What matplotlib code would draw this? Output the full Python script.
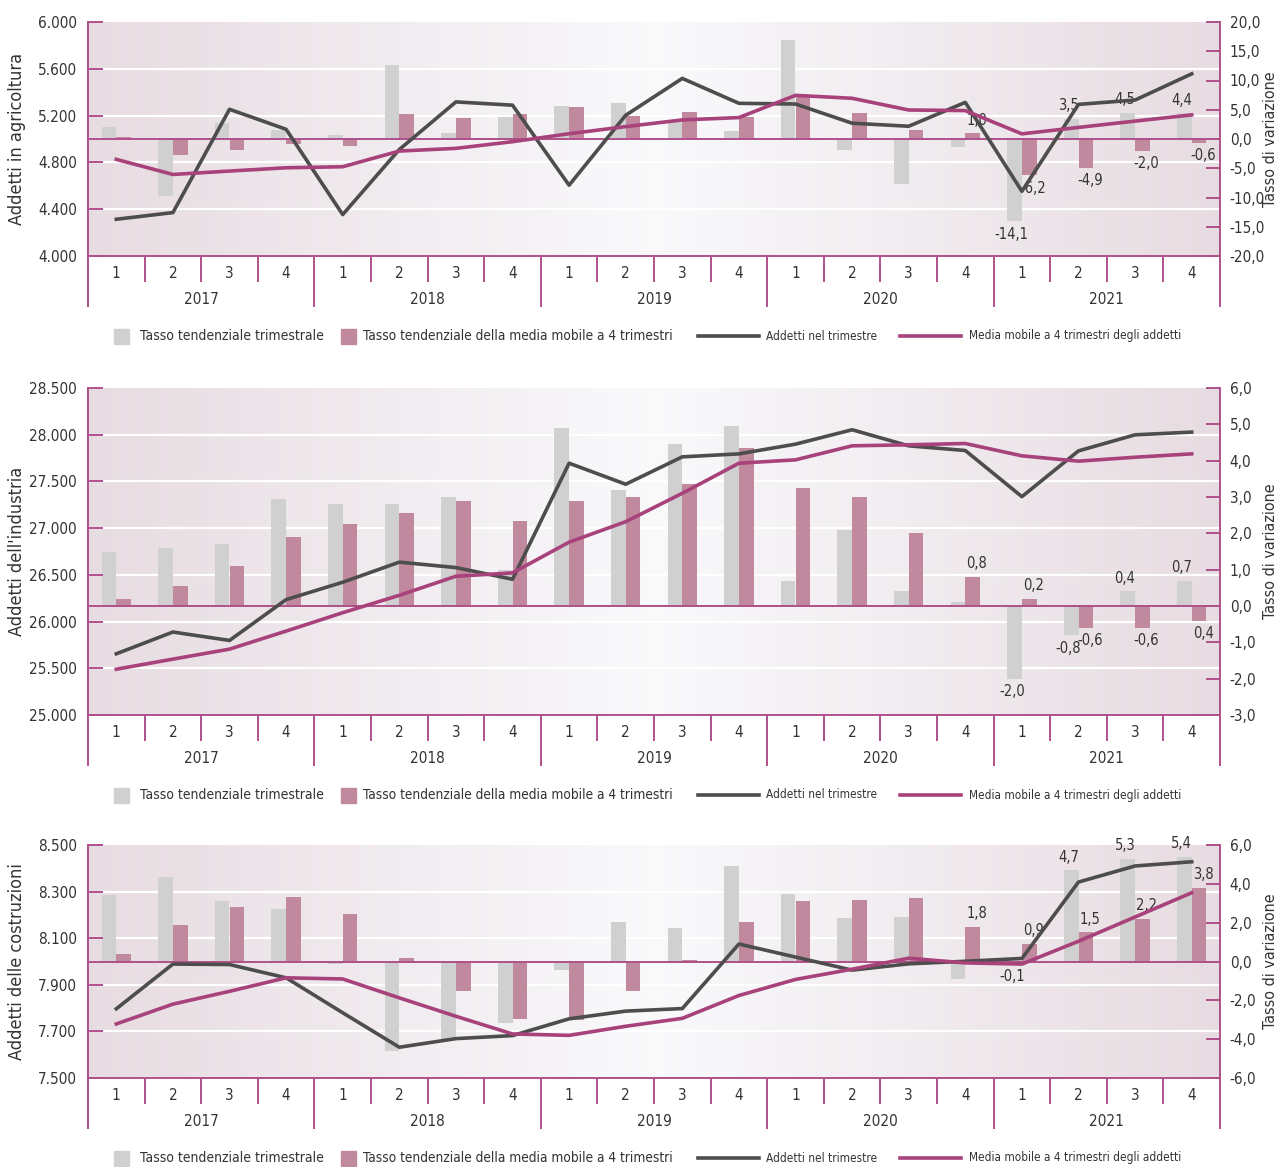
import numpy as np
import matplotlib
matplotlib.use('Agg')
import matplotlib.pyplot as plt
from matplotlib.patches import Rectangle
from matplotlib.lines import Line2D
from matplotlib.ticker import FuncFormatter

plt.rcParams['font.family'] = ['DejaVu Sans']
plt.rcParams['font.stretch'] = 'condensed'

quarters = ['1', '2', '3', '4'] * 5
years = ['2017', '2018', '2019', '2020', '2021']

# agricoltura
agr_tasso = [2.1, -9.8, 2.7, 1.6, 0.6, 12.7, 1.1, 3.8, 5.7, 6.1, 3.3, 1.4, 17.0, -1.9, -7.7, -1.4, -14.1, 3.5, 4.5, 4.4]
agr_tasso_mm = [0.4, -2.8, -1.8, -0.9, -1.2, 4.3, 3.6, 4.3, 5.5, 4.0, 4.7, 3.7, 7.3, 4.5, 1.6, 1.0, -6.2, -4.9, -2.0, -0.6]
agr_addetti = [4314, 4371, 5254, 5083, 4354, 4910, 5317, 5289, 4605, 5203, 5518, 5305, 5299, 5135, 5109, 5313, 4553, 5296, 5333, 5557]
agr_mm = [4826, 4697, 4726, 4754, 4763, 4897, 4920, 4977, 5045, 5106, 5163, 5183, 5373, 5348, 5248, 5243, 5044, 5099, 5153, 5206]
agr_lab_t = [None] * 16 + ['-14,1', '3,5', '4,5', '4,4']
agr_lab_mm = [None] * 15 + ['1,0', '-6,2', '-4,9', '-2,0', '-0,6']

# industria
ind_tasso = [1.5, 1.6, 1.7, 2.95, 2.8, 2.8, 3.0, 1.0, 4.9, 3.2, 4.45, 4.95, 0.7, 2.1, 0.4, 0.1, -2.0, -0.8, 0.4, 0.7]
ind_tasso_mm = [0.2, 0.55, 1.1, 1.9, 2.25, 2.55, 2.9, 2.35, 2.9, 3.0, 3.35, 4.35, 3.25, 3.0, 2.0, 0.8, 0.2, -0.6, -0.6, -0.4]
ind_addetti = [25655, 25888, 25798, 26235, 26421, 26636, 26578, 26453, 27695, 27470, 27763, 27795, 27899, 28053, 27881, 27831, 27337, 27827, 27999, 28028]
ind_mm = [25490, 25598, 25705, 25898, 26095, 26281, 26485, 26521, 26850, 27069, 27373, 27695, 27731, 27881, 27892, 27906, 27774, 27717, 27759, 27795]
ind_lab_t = [None] * 16 + ['-2,0', '-0,8', '0,4', '0,7']
ind_lab_mm = [None] * 15 + ['0,8', '0,2', '-0,6', '-0,6', '0,4']

# costruzioni
cos_tasso = [3.4, 4.35, 3.1, 2.7, -0.15, -4.6, -4.0, -3.15, -0.45, 2.05, 1.7, 4.9, 3.5, 2.25, 2.3, -0.9, -0.1, 4.7, 5.3, 5.4]
cos_tasso_mm = [0.4, 1.9, 2.8, 3.3, 2.45, 0.2, -1.5, -2.95, -3.0, -1.5, 0.1, 2.05, 3.1, 3.15, 3.25, 1.8, 0.9, 1.5, 2.2, 3.8]
cos_addetti = [7797, 7989, 7987, 7930, 7780, 7632, 7669, 7682, 7754, 7787, 7798, 8075, 8019, 7963, 7990, 8001, 8013, 8341, 8410, 8428]
cos_mm = [7732, 7817, 7872, 7930, 7925, 7844, 7765, 7689, 7683, 7722, 7756, 7854, 7923, 7967, 8014, 7994, 7989, 8087, 8191, 8295]
cos_lab_t = [None] * 16 + ['-0,1', '4,7', '5,3', '5,4']
cos_lab_mm = [None] * 15 + ['1,8', '0,9', '1,5', '2,2', '3,8']

PINK_AX = '#b0508a'
PINK_LINE = '#a8427a'
PINK_BAR = '#c0899e'
GRAY_BAR = '#d0d0d0'
DARK = '#4d4d4d'
TXT = '#333333'

W, H = 1280, 1167


def left_fmt(v, p):
    return f"{v:,.0f}".replace(',', '.')


def right_fmt(v, p):
    return f"{v:.1f}".replace('.', ',')


def bar_labels(ax, x, vals, labs, dx):
    for xi, v, lab in zip(x, vals, labs):
        if lab is None:
            continue
        if v >= 0:
            ax.annotate(lab, (xi, v), xytext=(dx, 4), textcoords='offset points',
                        ha='center', va='bottom', fontsize=10.5, color=TXT, zorder=6)
        else:
            ax.annotate(lab, (xi, v), xytext=(dx, -4), textcoords='offset points',
                        ha='center', va='top', fontsize=10.5, color=TXT, zorder=6)


def draw_panel(fig, top_px, bottom_px, ylabel, tasso, tasso_mm, addetti, mm,
               lab_t, lab_mm, left_lim, left_step, right_lim, right_step):
    x0, x1 = 88, 1220
    ax = fig.add_axes([x0 / W, 1 - bottom_px / H, (x1 - x0) / W, (bottom_px - top_px) / H])
    ax2 = ax.twinx()
    ax.yaxis.tick_right()
    ax.yaxis.set_label_position('right')
    ax2.yaxis.tick_left()
    ax2.yaxis.set_label_position('left')

    # background gradient
    t = np.linspace(0, 1, 400)
    k = np.abs(t - 0.5) * 2
    edge = np.array([0.905, 0.862, 0.882])
    mid = np.array([0.978, 0.978, 0.985])
    grad = mid[None, :] + (edge - mid)[None, :] * k[:, None]
    ax.imshow(grad[None, :, :], extent=[0, 1, 0, 1], transform=ax.transAxes,
              aspect='auto', zorder=0)

    x = np.arange(len(tasso))
    w = 0.26
    # white grid at left-axis ticks, mapped onto the right scale
    lticks = np.arange(left_lim[0], left_lim[1] + 1, left_step)
    for v in lticks[1:-1]:
        r = right_lim[0] + (v - left_lim[0]) / (left_lim[1] - left_lim[0]) * (right_lim[1] - right_lim[0])
        ax.axhline(r, color='white', lw=1.6, zorder=1)

    ax.bar(x - w / 2, tasso, width=w, color=GRAY_BAR, zorder=2)
    ax.bar(x + w / 2, tasso_mm, width=w, color=PINK_BAR, zorder=2)
    ax.axhline(0, color=PINK_AX, lw=1.4, zorder=3)
    bar_labels(ax, x - w / 2, tasso, lab_t, -2)
    bar_labels(ax, x + w / 2, tasso_mm, lab_mm, 3)

    ax2.plot(x, addetti, color=DARK, lw=2.6)
    ax2.plot(x, mm, color=PINK_LINE, lw=2.6)

    ax.set_xlim(-0.5, len(x) - 0.5)
    ax.set_ylim(*right_lim)
    ax2.set_ylim(*left_lim)
    ax.set_yticks(np.arange(right_lim[0], right_lim[1] + 0.001, right_step))
    ax2.set_yticks(lticks)
    ax.yaxis.set_major_formatter(FuncFormatter(right_fmt))
    ax2.yaxis.set_major_formatter(FuncFormatter(left_fmt))

    ax.tick_params(axis='y', direction='in', length=10, width=1.4, color=PINK_AX,
                   labelsize=11, labelcolor=TXT, pad=7)
    ax2.tick_params(axis='y', direction='in', length=11, width=1.4, color=PINK_AX,
                    labelsize=11, labelcolor=TXT, pad=8)

    ax.set_xticks(np.arange(-0.5, len(x), 4))
    ax.set_xticks(np.arange(-0.5, len(x), 1), minor=True)
    ax.set_xticklabels([])
    ax.tick_params(axis='x', which='major', direction='out', length=37, width=1.4, color=PINK_AX)
    ax.tick_params(axis='x', which='minor', direction='out', length=19, width=1.4, color=PINK_AX)

    for s in ax2.spines.values():
        s.set_visible(False)
    ax.spines['top'].set_visible(False)
    for s in ['left', 'right', 'bottom']:
        ax.spines[s].set_color(PINK_AX)
        ax.spines[s].set_linewidth(1.4)

    tr = ax.get_xaxis_transform()
    for xi, q in zip(x, quarters):
        ax.annotate(q, (xi, 0), xycoords=tr, xytext=(0, -7), textcoords='offset points',
                    ha='center', va='top', fontsize=11, color=TXT)
    for i, yr in enumerate(years):
        ax.annotate(yr, (i * 4 + 1.5, 0), xycoords=tr, xytext=(0, -26), textcoords='offset points',
                    ha='center', va='top', fontsize=11, color=TXT)

    ax2.set_ylabel(ylabel, fontsize=13, color=TXT)
    ax2.yaxis.set_label_coords(-0.055, 0.5)
    ax.set_ylabel('Tasso di variazione', fontsize=11.5, color=TXT)
    ax.yaxis.set_label_coords(1.038, 0.5)

    # legend row
    ly = 1 - (bottom_px + 80) / H
    sq = 15
    fig.patches.append(Rectangle((114 / W, ly - sq / 2 / H), sq / W, sq / H,
                                 transform=fig.transFigure, color=GRAY_BAR))
    fig.text(140 / W, ly, 'Tasso tendenziale trimestrale', fontsize=10, va='center', color=TXT)
    fig.patches.append(Rectangle((341 / W, ly - sq / 2 / H), sq / W, sq / H,
                                 transform=fig.transFigure, color=PINK_BAR))
    fig.text(363 / W, ly, 'Tasso tendenziale della media mobile a 4 trimestri', fontsize=9.8,
             va='center', color=TXT)
    fig.lines.append(Line2D([698 / W, 759 / W], [ly, ly], transform=fig.transFigure, color=DARK, lw=2.6))
    fig.text(766 / W, ly, 'Addetti nel trimestre', fontsize=8.5, va='center', color=TXT)
    fig.lines.append(Line2D([900 / W, 961 / W], [ly, ly], transform=fig.transFigure, color=PINK_LINE, lw=2.6))
    fig.text(969 / W, ly, 'Media mobile a 4 trimestri degli addetti', fontsize=8.5, va='center', color=TXT)


fig = plt.figure(figsize=(12.8, 11.67), dpi=100)
draw_panel(fig, 22, 256, 'Addetti in agricoltura', agr_tasso, agr_tasso_mm, agr_addetti, agr_mm,
           agr_lab_t, agr_lab_mm, (4000, 6000), 400, (-20, 20), 5)
draw_panel(fig, 388, 715, "Addetti dell'industria", ind_tasso, ind_tasso_mm, ind_addetti, ind_mm,
           ind_lab_t, ind_lab_mm, (25000, 28500), 500, (-3, 6), 1)
draw_panel(fig, 845, 1078, 'Addetti delle costruzioni', cos_tasso, cos_tasso_mm, cos_addetti, cos_mm,
           cos_lab_t, cos_lab_mm, (7500, 8500), 200, (-6, 6), 2)

fig.savefig('out.png', dpi=100)
plt.close(fig)
